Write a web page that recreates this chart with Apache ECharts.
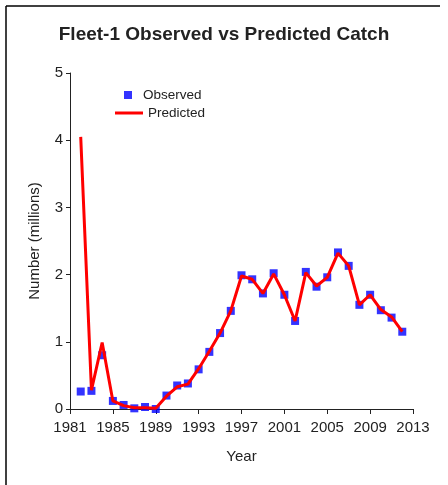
<!DOCTYPE html>
<html>
<head>
<meta charset="utf-8">
<script src="https://cdn.jsdelivr.net/npm/echarts@6/dist/echarts.min.js"></script>
<style>
  html, body { margin: 0; padding: 0; background: #fff; }
  #chart { width: 448px; height: 485px; }
</style>
</head>
<body>
<div id="chart"></div>
<script>
// years and catch values (millions)
const years = [1982, 1983, 1984, 1985, 1986, 1987, 1988, 1989, 1990, 1991, 1992,
  1993, 1994, 1995, 1996, 1997, 1998, 1999, 2000, 2001, 2002,
  2003, 2004, 2005, 2006, 2007, 2008, 2009, 2010, 2011, 2012]
const observed = [0.26, 0.27, 0.80, 0.12, 0.06, 0.01, 0.03, 0.00, 0.20, 0.35, 0.38,
  0.59, 0.85, 1.13, 1.46, 1.99, 1.93, 1.72, 2.02, 1.70, 1.31,
  2.04, 1.82, 1.96, 2.33, 2.13, 1.55, 1.70, 1.47, 1.36, 1.15]
const predicted = [4.05, 0.28, 0.99, 0.12, 0.05, 0.02, 0.02, 0.01, 0.19, 0.33, 0.37,
  0.60, 0.86, 1.13, 1.46, 1.98, 1.93, 1.72, 2.01, 1.70, 1.31,
  2.03, 1.83, 1.96, 2.32, 2.13, 1.55, 1.70, 1.48, 1.37, 1.15]

const font = 'Liberation Sans, Arial, sans-serif'
const textColor = '#222'

const chart = echarts.init(document.getElementById('chart'))

const options = {
  backgroundColor: '#fff',
  animation: false,
  title: {
    text: 'Fleet-1 Observed vs Predicted Catch',
    left: 'center',
    top: 20,
    textStyle: { fontFamily: font, fontSize: 19, fontWeight: 'bold', color: textColor }
  },
  legend: [
    {
      data: ['Observed'],
      left: 119, top: 83,
      icon: 'rect', itemWidth: 8, itemHeight: 8,
      textStyle: { fontFamily: font, fontSize: 13.5, color: textColor, padding: [0, 0, 0, 6] }
    },
    {
      data: ['Predicted'],
      left: 110, top: 101,
      icon: 'rect', itemWidth: 28, itemHeight: 3,
      textStyle: { fontFamily: font, fontSize: 13.5, color: textColor }
    }
  ],
  grid: { left: 70, right: 35, top: 73, bottom: 76 },
  xAxis: {
    type: 'value',
    min: 1981, max: 2013, interval: 4,
    name: 'Year', nameLocation: 'middle', nameGap: 40,
    nameTextStyle: { fontFamily: font, fontSize: 15, color: textColor },
    axisLine: { lineStyle: { color: '#222', width: 1 } },
    axisTick: { length: 5, lineStyle: { color: '#222' } },
    axisLabel: { fontFamily: font, fontSize: 15, color: textColor, margin: 11, formatter: v => String(v) },
    splitLine: { show: false }
  },
  yAxis: {
    type: 'value',
    min: 0, max: 5, interval: 1,
    name: 'Number (millions)', nameLocation: 'middle', nameGap: 28,
    nameTextStyle: { fontFamily: font, fontSize: 15, color: textColor },
    axisLine: { show: true, lineStyle: { color: '#222', width: 1 } },
    axisTick: { show: true, length: 4, lineStyle: { color: '#222' } },
    axisLabel: { fontFamily: font, fontSize: 15, color: textColor, margin: 7 },
    splitLine: { show: false }
  },
  series: [
    {
      name: 'Observed',
      type: 'scatter',
      symbol: 'rect',
      symbolSize: 8,
      itemStyle: { color: '#0000ff' },
      data: years.map((y, i) => [y, observed[i]]),
      z: 2
    },
    {
      name: 'Predicted',
      type: 'line',
      showSymbol: false,
      lineStyle: { color: '#ff0000', width: 3 },
      itemStyle: { color: '#ff0000' },
      data: years.map((y, i) => [y, predicted[i]]),
      z: 3
    }
  ],
  graphic: [
    { type: 'line', shape: { x1: 6, y1: 6, x2: 6, y2: 485 }, style: { stroke: '#000', lineWidth: 1.5 } },
    { type: 'line', shape: { x1: 6, y1: 6, x2: 440, y2: 6 }, style: { stroke: '#000', lineWidth: 1.5 } }
  ]
}

chart.setOption(options)
</script>
</body>
</html>
